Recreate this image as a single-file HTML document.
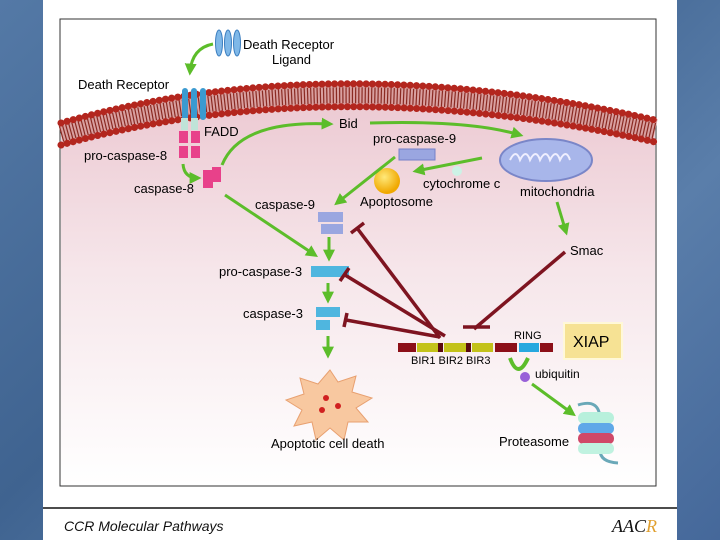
<!DOCTYPE html>
<html><head><style>
html,body{margin:0;padding:0;width:720px;height:540px;overflow:hidden;background:#4a6e9c;}
body{background:linear-gradient(135deg,#5479a6 0%,#3f6390 40%,#5a7eaa 70%,#45689a 100%);}
</style></head><body>
<svg width="720" height="540" viewBox="0 0 720 540" xmlns="http://www.w3.org/2000/svg" font-family="Liberation Sans, Arial, sans-serif">
<defs>
<linearGradient id="cyt" x1="0" y1="0" x2="0" y2="1">
<stop offset="0" stop-color="#ecc9d2"/><stop offset="0.45" stop-color="#f6e6ea"/><stop offset="1" stop-color="#ffffff"/></linearGradient>
<radialGradient id="sun" cx="0.4" cy="0.35" r="0.6"><stop offset="0" stop-color="#ffe97a"/><stop offset="1" stop-color="#f0a800"/></radialGradient>
<marker id="ga" viewBox="0 0 10 10" refX="7" refY="5" markerWidth="4" markerHeight="4" orient="auto"><path d="M0,0 L10,5 L0,10 z" fill="#5cbd2a"/></marker>
</defs>
<rect x="43" y="0" width="634" height="540" fill="#fff"/>
<rect x="60" y="19" width="596" height="467" fill="#fff" stroke="#333" stroke-width="1"/>
<!-- cytoplasm -->
<path d="M61,135 Q330,60 655,132 L655,485 L61,485 Z" fill="url(#cyt)"/>
<!-- membrane -->
<path d="M61,134 Q330,58 655,131" stroke="#d9a0a0" stroke-width="24" fill="none"/>
<path d="M61,134 Q330,58 655,131" stroke="#8a2a22" stroke-width="16" fill="none" stroke-dasharray="1.2 2"/>
<path d="M61,123 Q330,46 655,120" stroke="#b3261e" stroke-width="7" fill="none" stroke-linecap="round" stroke-dasharray="0.1 6.2"/>
<path d="M61,145 Q330,70 655,142" stroke="#b3261e" stroke-width="7" fill="none" stroke-linecap="round" stroke-dasharray="0.1 6.2"/>
<!-- ligand -->
<g fill="#7fb8e8" stroke="#3d7fc0" stroke-width="1"><ellipse cx="219" cy="43" rx="3.5" ry="13"/><ellipse cx="228" cy="43" rx="3.5" ry="13"/><ellipse cx="237" cy="43" rx="3.5" ry="13"/></g>
<text x="243" y="49" font-size="13">Death Receptor</text><text x="272" y="64" font-size="13">Ligand</text>
<path d="M213,44 Q192,48 190,72" stroke="#5cbd2a" stroke-width="3" fill="none" marker-end="url(#ga)"/>
<text x="78" y="89" font-size="13">Death Receptor</text>
<!-- receptor -->
<g fill="#3b9ad0"><rect x="182" y="88" width="6" height="32" rx="3"/><rect x="191" y="88" width="6" height="32" rx="3"/><rect x="200" y="88" width="6" height="32" rx="3"/></g>
<g fill="#bfe3d8"><rect x="181" y="118" width="7" height="12"/><rect x="191" y="118" width="7" height="12"/></g>
<g fill="#e8418a"><rect x="179" y="131" width="9" height="12"/><rect x="191" y="131" width="9" height="12"/><rect x="179" y="146" width="9" height="12"/><rect x="191" y="146" width="9" height="12"/></g>
<text x="204" y="136" font-size="13">FADD</text>
<text x="84" y="160" font-size="13">pro-caspase-8</text>
<g fill="#e8418a"><rect x="203" y="170" width="10" height="18"/><rect x="212" y="167" width="9" height="15"/></g>
<text x="134" y="193" font-size="13">caspase-8</text>
<path d="M183,164 Q184,178 198,178" stroke="#5cbd2a" stroke-width="3" fill="none" marker-end="url(#ga)"/>
<path d="M222,165 Q240,120 330,124" stroke="#5cbd2a" stroke-width="3" fill="none" marker-end="url(#ga)"/>
<text x="339" y="128" font-size="13">Bid</text>
<path d="M370,123 Q470,120 520,135" stroke="#5cbd2a" stroke-width="3" fill="none" marker-end="url(#ga)"/>
<text x="373" y="143" font-size="13">pro-caspase-9</text>
<rect x="399" y="149" width="36" height="11" fill="#9aa6e0" stroke="#7480c8"/>
<circle cx="457" cy="171" r="5" fill="#cdf2e6"/>
<path d="M482,158 L416,171" stroke="#5cbd2a" stroke-width="3" marker-end="url(#ga)"/>
<circle cx="387" cy="181" r="13" fill="url(#sun)"/>
<text x="423" y="188" font-size="13">cytochrome c</text>
<text x="360" y="206" font-size="13">Apoptosome</text>
<ellipse cx="546" cy="160" rx="46" ry="21" fill="#a8b6ea" stroke="#7a86c8" stroke-width="2"/>
<path d="M510,160 q6,-12 10,0 q6,-12 10,0 q6,-12 10,0 q6,-12 10,0 q6,-12 10,0 q6,-12 10,0" stroke="#eef" stroke-width="2" fill="none"/>
<text x="520" y="196" font-size="13">mitochondria</text>
<path d="M557,202 L566,232" stroke="#5cbd2a" stroke-width="3" marker-end="url(#ga)"/>
<text x="570" y="255" font-size="13">Smac</text>
<path d="M395,157 L337,203" stroke="#5cbd2a" stroke-width="3" marker-end="url(#ga)"/>
<text x="255" y="209" font-size="13">caspase-9</text>
<rect x="318" y="212" width="25" height="10" fill="#9aa6e0"/><rect x="321" y="224" width="22" height="10" fill="#9aa6e0"/>
<path d="M329,237 L329,258" stroke="#5cbd2a" stroke-width="3" marker-end="url(#ga)"/>
<path d="M225,195 L315,255" stroke="#5cbd2a" stroke-width="3" marker-end="url(#ga)"/>
<text x="219" y="276" font-size="13">pro-caspase-3</text>
<rect x="311" y="266" width="38" height="11" fill="#4fb6df"/>
<path d="M328,283 L328,300" stroke="#5cbd2a" stroke-width="3" marker-end="url(#ga)"/>
<text x="243" y="318" font-size="13">caspase-3</text>
<rect x="316" y="307" width="24" height="10" fill="#4fb6df"/><rect x="316" y="320" width="14" height="10" fill="#4fb6df"/>
<path d="M328,336 L328,355" stroke="#5cbd2a" stroke-width="3" marker-end="url(#ga)"/>
<!-- inhibitors -->
<g stroke="#7e1420" stroke-width="3.5" fill="none">
<path d="M440,338 L357,228"/><path d="M351,233 L364,223"/>
<path d="M445,336 L345,275"/><path d="M340,281 L349,268"/>
<path d="M440,337 L346,320"/><path d="M344,327 L347,313"/>
<path d="M565,252 L474,329"/><path d="M463,327 L490,327"/>
</g>
<!-- XIAP bar -->
<rect x="398" y="343" width="18" height="9" fill="#8c0f18"/>
<rect x="417" y="343" width="21" height="9" fill="#c3c21a"/><rect x="438" y="343" width="5" height="9" fill="#5a0a10"/>
<rect x="444" y="343" width="22" height="9" fill="#c3c21a"/><rect x="466" y="343" width="5" height="9" fill="#5a0a10"/>
<rect x="472" y="343" width="21" height="9" fill="#c3c21a"/>
<rect x="495" y="343" width="22" height="9" fill="#8c0f18"/><rect x="519" y="343" width="20" height="9" fill="#27a8df"/><rect x="540" y="343" width="13" height="9" fill="#8c0f18"/>
<text x="514" y="339" font-size="11">RING</text>
<text x="411" y="364" font-size="11">BIR1 BIR2 BIR3</text>
<rect x="564" y="323" width="58" height="36" fill="#f6e294" stroke="#fff8d8" stroke-width="2"/>
<text x="573" y="347" font-size="16">XIAP</text>
<path d="M510,358 Q518,380 528,358" stroke="#5cbd2a" stroke-width="4" fill="none"/>
<circle cx="525" cy="377" r="5" fill="#9860d8"/>
<text x="535" y="378" font-size="12">ubiquitin</text>
<path d="M532,384 L573,414" stroke="#5cbd2a" stroke-width="3" marker-end="url(#ga)"/>
<text x="499" y="446" font-size="13">Proteasome</text>
<path d="M578,405 Q600,398 600,420 L600,450 Q600,462 618,463" stroke="#6aa8b8" stroke-width="3" fill="none"/>
<g><rect x="578" y="412" width="36" height="12" rx="6" fill="#b8f0dc"/><rect x="578" y="423" width="36" height="11" rx="5" fill="#5fa8e8"/><rect x="578" y="433" width="36" height="11" rx="5" fill="#d04868"/><rect x="578" y="443" width="36" height="11" rx="5" fill="#c0f2e0"/></g>
<!-- cell death -->
<path d="M330,370 l8,12 l18,-6 l-4,16 l20,6 l-16,10 l12,14 l-20,0 l-4,18 l-14,-12 l-14,12 l-4,-18 l-18,4 l8,-16 l-16,-10 l18,-6 l-4,-16 l18,6 z" fill="#f8c8a0" stroke="#e8a070"/>
<circle cx="326" cy="398" r="3" fill="#d02020"/><circle cx="338" cy="406" r="3" fill="#d02020"/><circle cx="322" cy="410" r="3" fill="#d02020"/>
<text x="271" y="448" font-size="13">Apoptotic cell death</text>
<!-- footer -->
<line x1="43" y1="508" x2="677" y2="508" stroke="#111" stroke-width="1.5"/>
<text x="64" y="531" font-size="14" font-style="italic" fill="#111">CCR Molecular Pathways</text>
<text x="612" y="532" font-size="18" font-style="italic" font-family="Liberation Serif, serif" fill="#111">AAC<tspan fill="#e0a030">R</tspan></text>
</svg>
</body></html>
